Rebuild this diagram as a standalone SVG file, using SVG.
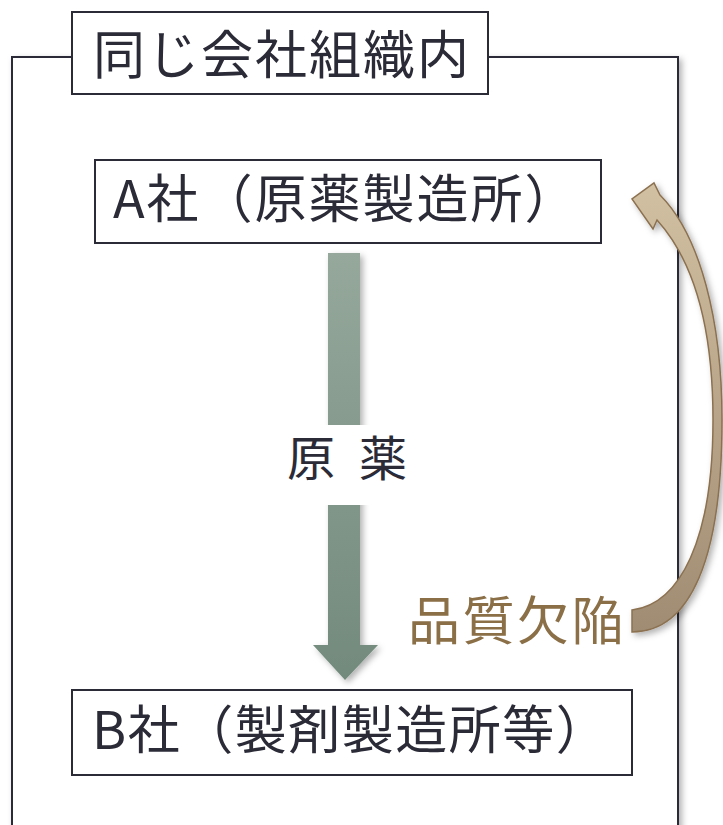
<svg xmlns="http://www.w3.org/2000/svg" width="723" height="825" viewBox="0 0 723 825">
<defs>
<style>
.box{fill:#fff;stroke:#2b2b38;stroke-width:2}
.t{font-family:"Noto Sans CJK JP","Noto Sans",sans-serif;fill:#2b2b38}
</style>
<filter id="sh" x="-10%" y="-10%" width="130%" height="130%">
<feDropShadow dx="3" dy="3" stdDeviation="3" flood-color="#000" flood-opacity="0.3"/>
</filter>
<linearGradient id="gg" x1="0" y1="0" x2="0" y2="1">
<stop offset="0" stop-color="#95a89b"/>
<stop offset="1" stop-color="#728a7c"/>
</linearGradient>
<linearGradient id="bg" x1="0" y1="0" x2="0" y2="1">
<stop offset="0" stop-color="#d2c0a2"/>
<stop offset="1" stop-color="#a08c72"/>
</linearGradient>
</defs>
<g id="frame">
<rect x="12" y="57" width="666" height="800" class="box" filter="url(#sh)"/>
</g>
<g id="title">
<rect x="72" y="12" width="416" height="82" class="box"/>
<text class="t" x="93" y="74" font-size="52" letter-spacing="2">同じ会社組織内</text>
</g>
<g id="connectors">
<g id="supply" filter="url(#sh)">
<path d="M328,253 H360 V645 H378 L345,680 L313,645 H328 Z" fill="url(#gg)"/>
</g>
<rect x="280" y="425" width="140" height="80" fill="#fff"/>
<text class="t" y="476" font-size="48"><tspan x="287">原</tspan><tspan x="359">薬</tspan></text>
<g id="defect" filter="url(#sh)">
<path d="M632,610 C680,604 713,540 713,420 C713,330 695,262 657,220 L653,229 L632,199 L654,183 L660,195 C700,235 722,320 722,420 C722,560 690,632 632,632 Z" fill="url(#bg)" stroke="#8b7150" stroke-width="1.5"/>
</g>
<text x="408" y="640" font-size="52" letter-spacing="2.5" fill="#8b6f47" font-family="Noto Sans CJK JP,Noto Sans,sans-serif">品質欠陥</text>
</g>
<g id="nodeA">
<rect x="95" y="160" width="506" height="83" class="box"/>
<text class="t" x="113" y="218" font-size="52" letter-spacing="2">A社（原薬製造所）</text>
</g>
<g id="nodeB">
<rect x="72" y="690" width="560" height="85" class="box"/>
<text class="t" x="92" y="749" font-size="52" letter-spacing="1.5">B社（製剤製造所等）</text>
</g>
</svg>
